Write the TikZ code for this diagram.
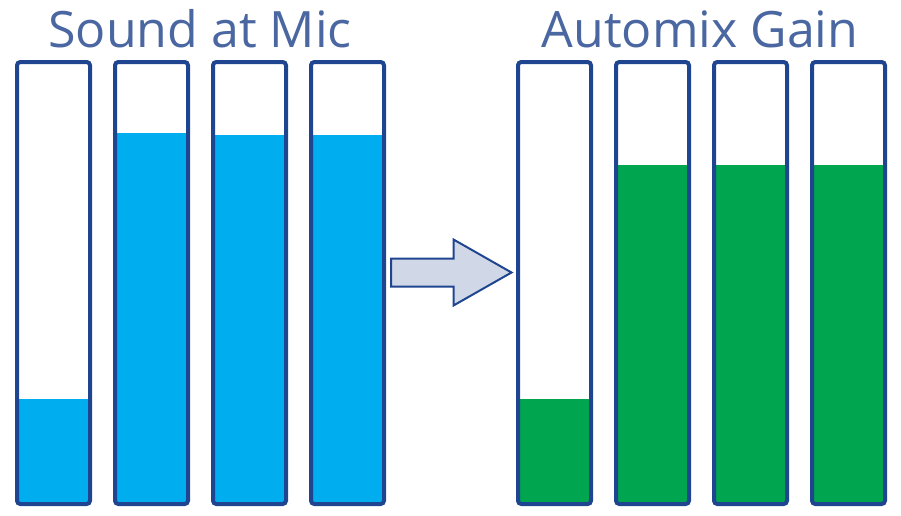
\documentclass[tikz,border=0pt]{standalone}
\usepackage{fontspec}
\setmainfont{Open Sans}
\definecolor{barline}{HTML}{1F4591}
\definecolor{titlecol}{HTML}{4A67A1}
\definecolor{soundfill}{HTML}{00ADEF}
\definecolor{gainfill}{HTML}{00A550}
\definecolor{arrowfill}{HTML}{D0D8E8}
\begin{document}
\begin{tikzpicture}[x=0.75pt,y=-0.75pt,
  barbox/.style={draw=barline,line width=3pt,rounded corners=2.5pt},
  titletext/.style={text=titlecol,font=\fontsize{37.6}{40}\selectfont,anchor=base,inner sep=0pt},
  arrowshape/.style={draw=barline,line width=1.5pt,fill=arrowfill,line join=miter}]
\useasboundingbox (0,0) rectangle (901,515);
% titles
\node[titletext] (t1) at (200,47) {Sound at Mic};
\node[titletext] (t2) at (700,47) {Automix Gain};
% left bars (sound)
\foreach \x/\lvl [count=\i] in {17/399,115/133,213/135,311/135}{
  \fill[soundfill] (\x+1.5,\lvl) rectangle (\x+71.5,502.5);
  \draw[barbox] (\x,62) rectangle (\x+73,504);
}
% right bars (gain)
\foreach \x/\lvl [count=\i] in {518/399,616/165,714/165,812/165}{
  \fill[gainfill] (\x+1.5,\lvl) rectangle (\x+71.5,502.5);
  \draw[barbox] (\x,62) rectangle (\x+73,504);
}
% arrow
\draw[arrowshape] (391,258.5) -- (453.5,258.5) -- (453.5,239.5) -- (511.5,272.5)
  -- (453.5,305.5) -- (453.5,286.5) -- (391,286.5) -- cycle;
\end{tikzpicture}
\end{document}
